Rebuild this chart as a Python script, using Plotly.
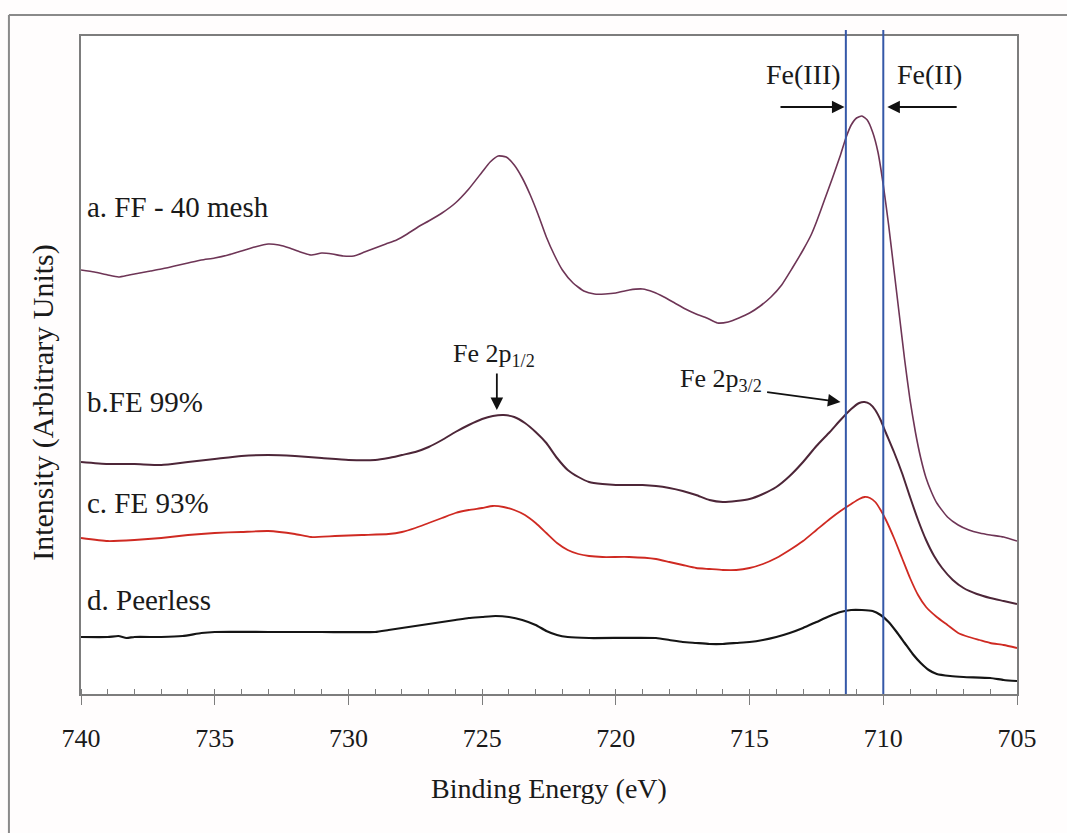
import plotly.graph_objects as go

# Fe 2p XPS spectra: binding energy (eV) vs intensity (arbitrary units, curves offset for clarity)
energy_a = [740.0, 739.5, 739.0, 738.6, 738.2, 737.8, 737.4, 737.0, 736.5, 736.0, 735.5, 735.0,
            734.5, 734.0, 733.5, 733.0, 732.6, 732.2, 731.8, 731.4, 731.0, 730.6, 730.2, 729.8,
            729.4, 729.0, 728.6, 728.2, 727.8, 727.4, 727.0, 726.5, 726.0, 725.5, 725.0, 724.7,
            724.4, 724.1, 723.8, 723.5, 723.2, 722.9, 722.6, 722.3, 722.0, 721.6, 721.2, 720.8,
            720.4, 720.0, 719.5, 719.0, 718.6, 718.2, 717.8, 717.4, 717.0, 716.6, 716.2, 715.8,
            715.4, 715.0, 714.6, 714.2, 713.8, 713.4, 713.0, 712.7, 712.5, 712.2, 711.9, 711.6,
            711.4, 711.2, 711.0, 710.8, 710.6, 710.4, 710.2, 710.0, 709.8, 709.6, 709.4, 709.2,
            709.0, 708.8, 708.6, 708.4, 708.2, 708.0, 707.6, 707.2, 706.8, 706.4, 706.0, 705.5,
            705.0]
intensity_a = [424, 422, 419, 417, 419, 421, 423, 425, 428, 431, 434, 436,
               439, 443, 447, 450, 449, 446, 442, 439, 441, 440, 438, 438,
               442, 446, 450, 454, 460, 467, 473, 481, 491, 505, 522, 532,
               538, 537, 529, 516, 499, 479, 457, 439, 424, 411, 403, 400,
               400, 401, 404, 405, 402, 397, 391, 385, 380, 376, 371, 372,
               376, 381, 388, 397, 409, 426, 444, 459, 472, 494, 516, 539,
               556, 569, 576, 578, 574, 562, 542, 509, 469, 424, 379, 334,
               294, 262, 236, 216, 202, 191, 177, 169, 164, 161, 159, 157,
               153]

energy_b = [740.0, 739.0, 738.0, 737.0, 736.0, 735.0, 734.0, 733.0, 732.0, 731.0, 730.0, 729.0,
            728.5, 728.0, 727.5, 727.0, 726.5, 726.0, 725.5, 725.0, 724.6, 724.2, 723.8, 723.4,
            723.0, 722.6, 722.2, 721.8, 721.4, 721.0, 720.5, 720.0, 719.0, 718.5, 718.0, 717.5,
            717.0, 716.5, 716.0, 715.5, 715.0, 714.5, 714.0, 713.5, 713.0, 712.5, 712.0, 711.6,
            711.2, 710.9, 710.7, 710.5, 710.3, 710.1, 709.9, 709.6, 709.3, 709.0, 708.7, 708.4,
            708.1, 707.8, 707.4, 707.0, 706.5, 706.0, 705.5, 705.0]
intensity_b = [232, 230, 230, 229, 232, 235, 238, 239, 238, 236, 234, 234,
               236, 239, 242, 247, 254, 262, 269, 275, 278, 279, 277, 271,
               262, 251, 236, 224, 217, 212, 210, 209, 209, 208, 206, 203,
               199, 194, 192, 193, 195, 200, 207, 218, 232, 248, 262, 274,
               285, 291, 292, 290, 284, 274, 261, 242, 221, 197, 174, 154,
               138, 126, 114, 106, 100, 96, 93, 90]

energy_c = [740.0, 739.0, 738.0, 737.0, 736.0, 735.0, 734.0, 733.0, 732.0, 731.4, 730.5, 729.5,
            728.5, 728.0, 727.5, 727.0, 726.5, 726.0, 725.5, 725.0, 724.6, 724.2, 723.8, 723.4,
            723.0, 722.6, 722.2, 721.8, 721.4, 721.0, 720.5, 719.5, 718.5, 718.0, 717.5, 717.0,
            716.5, 716.0, 715.5, 715.0, 714.5, 714.0, 713.5, 713.0, 712.5, 712.0, 711.6, 711.2,
            710.9, 710.7, 710.5, 710.3, 710.1, 709.9, 709.6, 709.3, 709.0, 708.7, 708.4, 708.0,
            707.6, 707.2, 706.8, 706.4, 706.0, 705.5, 705.0]
intensity_c = [156, 153, 154, 156, 159, 161, 162, 163, 160, 157, 158, 159,
               160, 162, 166, 171, 176, 181, 184, 186, 188, 187, 184, 179,
               171, 161, 151, 144, 140, 138, 137, 137, 135, 132, 129, 126,
               125, 124, 124, 126, 130, 136, 144, 153, 164, 175, 183, 190,
               195, 197, 196, 192, 184, 174, 156, 136, 116, 99, 87, 77,
               69, 61, 57, 54, 51, 49, 46]

energy_d = [740.0, 739.0, 738.6, 738.3, 738.0, 737.0, 736.2, 735.5, 735.0, 733.0, 731.0, 729.0,
            728.5, 728.0, 727.5, 727.0, 726.5, 726.0, 725.5, 725.0, 724.5, 724.0, 723.5, 723.0,
            722.6, 722.2, 721.8, 721.0, 718.5, 718.0, 717.5, 717.0, 716.5, 716.0, 715.5, 715.0,
            714.5, 714.0, 713.5, 713.0, 712.5, 712.0, 711.6, 711.2, 710.8, 710.4, 710.1, 709.8,
            709.5, 709.2, 708.9, 708.6, 708.3, 708.0, 707.5, 707.0, 706.0, 705.5, 705.0]
intensity_d = [57, 57, 58, 56, 57, 57, 58, 61, 62, 62, 62, 62,
               64, 66, 68, 70, 72, 74, 76, 77, 78, 77, 74, 69,
               63, 59, 57, 56, 56, 54, 52, 51, 50, 50, 51, 52,
               54, 57, 61, 66, 72, 78, 82, 84, 84, 83, 79, 72,
               62, 51, 40, 31, 24, 20, 18, 17, 16, 14, 13]

# (label, energies, intensities, colour, width, label height)
series = [
    ("a. FF - 40 mesh", energy_a, intensity_a, "#6e3556", 1.6, 487),
    ("b.FE 99%", energy_b, intensity_b, "#4d2638", 2.0, 292),
    ("c. FE 93%", energy_c, intensity_c, "#cf2a22", 1.8, 191),
    ("d. Peerless", energy_d, intensity_d, "#151515", 2.2, 94),
]

# Reference binding energies marking the oxidation states
fe3_energy = 711.4
fe2_energy = 710.0

SERIF = "Liberation Serif, Times New Roman, serif"
AXIS_GREY = "#7d7d7d"
TEXT = "#1a1a1a"

fig = go.Figure()

for name, xs, ys, color, width, _ in series:
    fig.add_trace(go.Scatter(x=xs, y=ys, mode="lines", name=name,
                             line=dict(color=color, width=width, shape="spline", smoothing=0.5),
                             showlegend=False, hoverinfo="skip"))

# helper trace so the overlaid axis (inner half of the major ticks) is drawn
fig.add_trace(go.Scatter(x=[740, 705], y=[0, 0], xaxis="x2", mode="markers",
                         marker=dict(opacity=0), showlegend=False, hoverinfo="skip"))

# curve labels on the left
for name, xs, ys, color, width, label_y in series:
    fig.add_annotation(x=739.85, y=label_y, text=name, showarrow=False,
                       xanchor="left", yanchor="middle",
                       font=dict(family=SERIF, size=29, color=TEXT))

# oxidation-state guide lines
for e in (fe3_energy, fe2_energy):
    fig.add_shape(type="line", xref="x", yref="paper", x0=e, x1=e, y0=0, y1=1.009,
                  line=dict(color="#3558a8", width=2), layer="above")

arrow_style = dict(showarrow=True, arrowhead=2, arrowsize=1.4, arrowwidth=1.8,
                   arrowcolor="#111111", axref="x", ayref="y")

fig.add_annotation(x=fe3_energy + 0.05, y=587, ax=713.9, ay=587, text="", **arrow_style)
fig.add_annotation(x=fe2_energy - 0.15, y=587, ax=707.2, ay=587, text="", **arrow_style)
fig.add_annotation(x=711.5, y=620, text="Fe(III)", showarrow=False, xanchor="right",
                   font=dict(family=SERIF, size=28, color=TEXT))
fig.add_annotation(x=709.55, y=620, text="Fe(II)", showarrow=False, xanchor="left",
                   font=dict(family=SERIF, size=28, color=TEXT))

fig.add_annotation(x=724.45, y=284, ax=724.45, ay=322, text="", **arrow_style)
fig.add_annotation(x=724.55, y=339, text="Fe 2p<sub>1/2</sub>", showarrow=False,
                   font=dict(family=SERIF, size=26, color=TEXT))
fig.add_annotation(x=711.6, y=292, ax=714.4, ay=302, text="", **arrow_style)
fig.add_annotation(x=716.05, y=314, text="Fe 2p<sub>3/2</sub>", showarrow=False,
                   font=dict(family=SERIF, size=26, color=TEXT))

# axis titles
fig.add_annotation(xref="paper", yref="paper", x=0.5, y=-0.143, text="Binding Energy (eV)",
                   showarrow=False, xanchor="center", yanchor="middle",
                   font=dict(family=SERIF, size=28, color=TEXT))
fig.add_annotation(xref="paper", yref="paper", x=-0.0406, y=0.444,
                   text="Intensity (Arbitrary Units)", textangle=-90,
                   showarrow=False, xanchor="center", yanchor="middle",
                   font=dict(family=SERIF, size=30, color=TEXT))

# outer figure frame
fig.add_shape(type="line", xref="paper", yref="paper", x0=-0.077, x1=-0.077, y0=-0.23, y1=1.032,
              line=dict(color="#8a8a8a", width=2))
fig.add_shape(type="line", xref="paper", yref="paper", x0=-0.077, x1=1.06, y0=1.032, y1=1.032,
              line=dict(color="#8a8a8a", width=2))

tick_vals = [740, 735, 730, 725, 720, 715, 710, 705]

fig.update_layout(
    width=1067, height=833,
    margin=dict(l=81, r=50, t=36, b=139),
    paper_bgcolor="#fffdfd", plot_bgcolor="#ffffff",
    xaxis=dict(range=[740, 705], tickvals=tick_vals, ticktext=[str(v) for v in tick_vals],
               ticks="outside", ticklen=9, tickwidth=1.3, tickcolor=AXIS_GREY,
               minor=dict(dtick=1, ticks="inside", ticklen=5, tickwidth=1.1, tickcolor=AXIS_GREY),
               showline=True, linecolor=AXIS_GREY, linewidth=1.6, mirror=True,
               showgrid=False, zeroline=False, ticklabelstandoff=11,
               tickfont=dict(family=SERIF, size=26, color=TEXT)),
    xaxis2=dict(range=[740, 705], overlaying="x", anchor="y", side="bottom",
                tickvals=tick_vals, ticks="inside", ticklen=5, tickwidth=1.3,
                tickcolor=AXIS_GREY, showticklabels=False, showline=False,
                showgrid=False, zeroline=False),
    yaxis=dict(range=[0, 658], showticklabels=False, ticks="",
               showline=True, linecolor=AXIS_GREY, linewidth=1.6, mirror=True,
               showgrid=False, zeroline=False),
)

fig.write_html("out.html")
